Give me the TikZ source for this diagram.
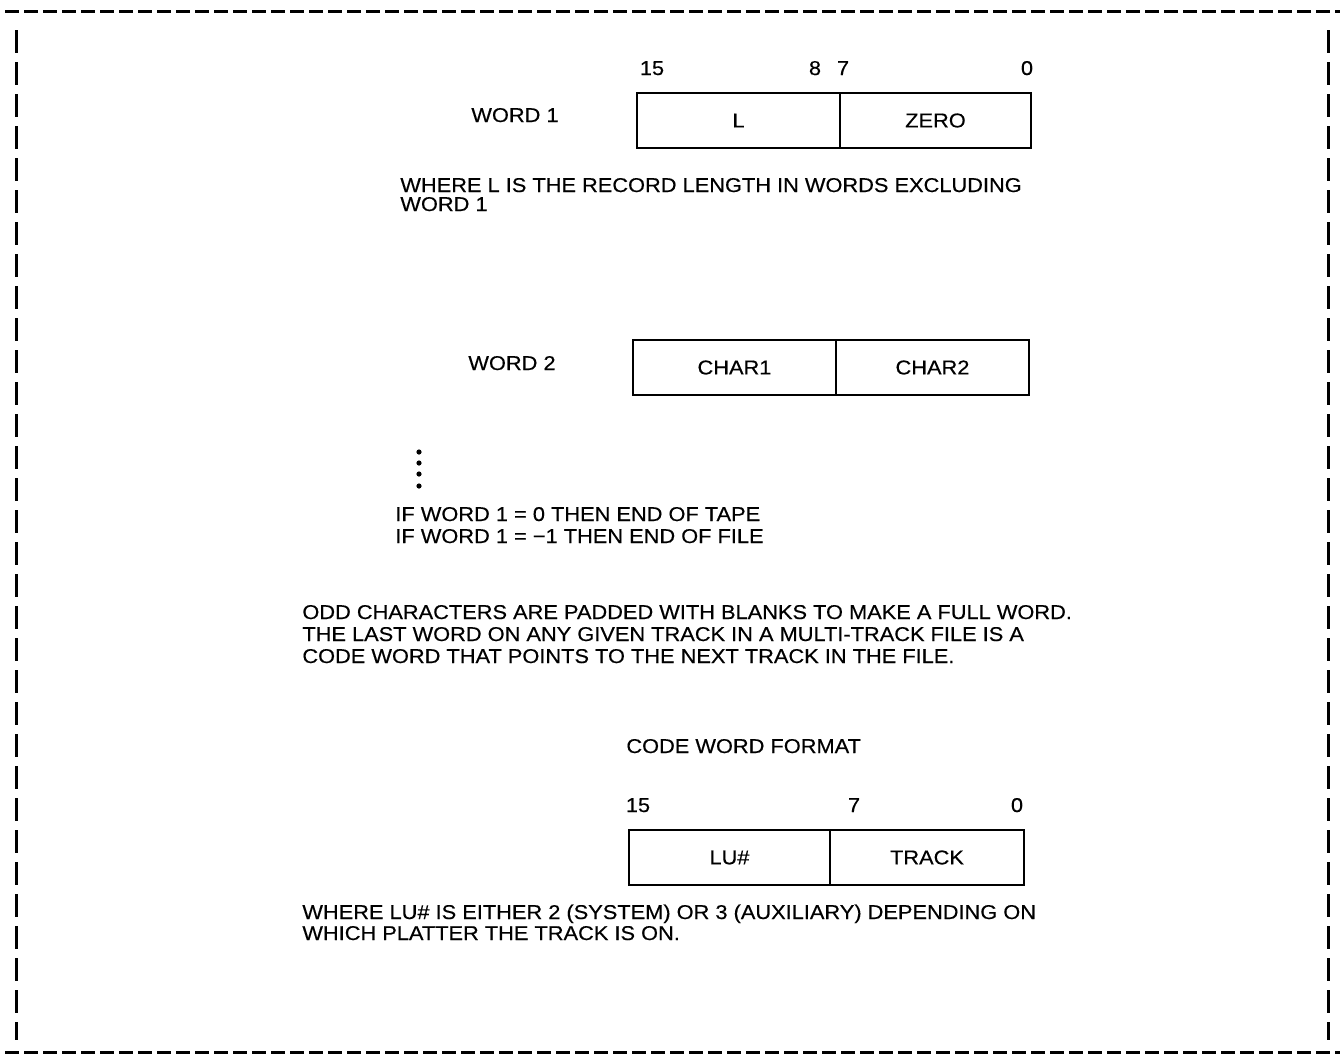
\documentclass[tikz,border=0pt]{standalone}
\usepackage{fontspec}
\setmainfont{Liberation Sans}[FakeStretch=1.09,FakeBold=0.4]
\begin{document}
\begin{tikzpicture}[x=0.5pt,y=-0.5pt,
  txt/.style={inner sep=0pt,anchor=base west,font=\fontsize{10}{12}\selectfont},
  num/.style={inner sep=0pt,anchor=base,font=\fontsize{10}{12}\selectfont},
  field/.style={draw,line width=1pt,inner sep=0pt,outer sep=0pt,minimum height=27.5pt,anchor=north west,font=\fontsize{10}{12}\selectfont},
  border/.style={line width=1.5pt}]
\useasboundingbox (0,0) rectangle (1340,1062);
% border
\draw[border,dash pattern=on 7pt off 2.5pt] (5,11) -- (1340,11);
\draw[border,dash pattern=on 7pt off 2.5pt] (5,1052) -- (1340,1052);
\draw[border,dash pattern=on 11.5pt off 4.5pt] (16,30) -- (16,1040);
\draw[border,dash pattern=on 11.5pt off 4.5pt] (1328,30) -- (1328,1040);
% word 1
\node[num] (b15a) at (652,75) {15};
\node[num] (b8a) at (815,75) {8};
\node[num] (b7a) at (843,75) {7};
\node[num] (b0a) at (1027,75) {0};
\node[txt] (w1) at (471,122) {WORD 1};
\node[field,minimum width=101.5pt] (L) at (637,93) {L};
\node[field,minimum width=95.5pt] (zero) at (L.north east) {ZERO};
\node[txt] (where1) at (400,192) {WHERE L IS THE RECORD LENGTH IN WORDS EXCLUDING};
\node[txt] (where1b) at (400,211) {WORD 1};
% word 2
\node[txt] (w2) at (468,370) {WORD 2};
\node[field,minimum width=101.5pt] (c1) at (633,340) {CHAR1};
\node[field,minimum width=96.5pt] (c2) at (c1.north east) {CHAR2};
% dots
\foreach \yy in {452,463,474,486}
  \fill (419,\yy) circle (1.3pt);
\node[txt] (if1) at (395,521) {IF WORD 1 = 0 THEN END OF TAPE};
\node[txt] (if2) at (395,543) {IF WORD 1 = −1 THEN END OF FILE};
% paragraph
\node[txt] (p1) at (302,619) {ODD CHARACTERS ARE PADDED WITH BLANKS TO MAKE A FULL WORD.};
\node[txt] (p2) at (302,641) {THE LAST WORD ON ANY GIVEN TRACK IN A MULTI-TRACK FILE IS A};
\node[txt] (p3) at (302,663) {CODE WORD THAT POINTS TO THE NEXT TRACK IN THE FILE.};
% code word
\node[txt] (cwf) at (626,753) {CODE WORD FORMAT};
\node[num] (b15c) at (638,812) {15};
\node[num] (b7c) at (854,812) {7};
\node[num] (b0c) at (1017,812) {0};
\node[field,minimum width=100.5pt] (lu) at (629,830) {LU\#};
\node[field,minimum width=97pt] (track) at (lu.north east) {TRACK};
\node[txt] (n1) at (302,919) {WHERE LU\# IS EITHER 2 (SYSTEM) OR 3 (AUXILIARY) DEPENDING ON};
\node[txt] (n2) at (302,940) {WHICH PLATTER THE TRACK IS ON.};
\end{tikzpicture}
\end{document}
